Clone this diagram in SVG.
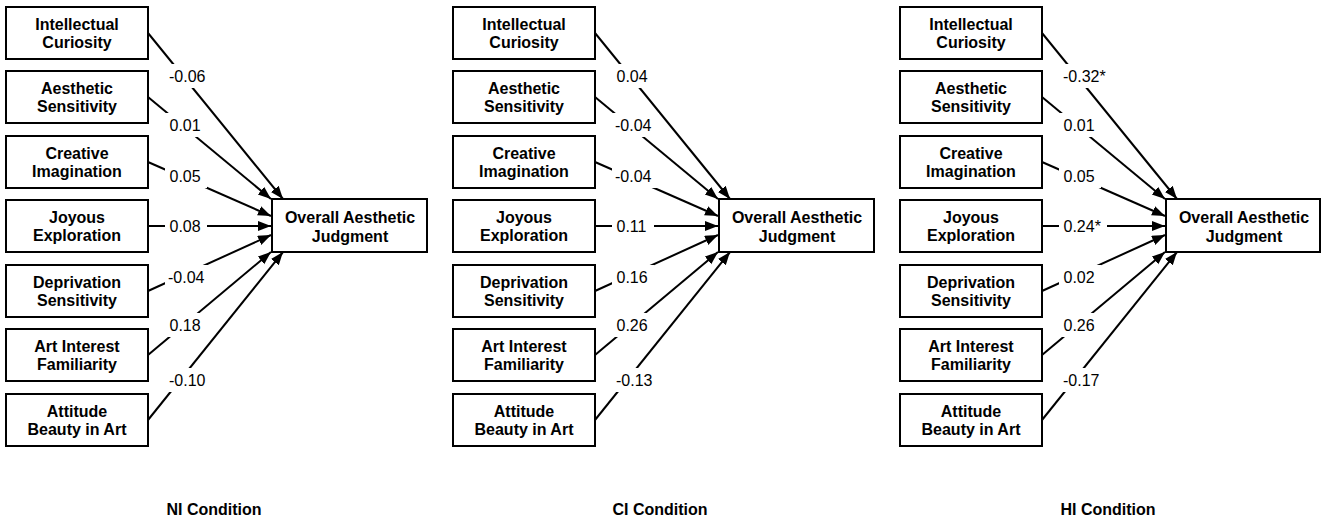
<svg xmlns="http://www.w3.org/2000/svg" width="1323" height="520" viewBox="0 0 1323 520">
<style>
.box{fill:#fff;stroke:#000;stroke-width:2}
.nt{font-family:"Liberation Sans",Arial,sans-serif;font-size:16px;font-weight:bold;fill:#000;text-anchor:middle}
.lbl{font-family:"Liberation Sans",Arial,sans-serif;font-size:16px;fill:#000}
.edge{stroke:#000;stroke-width:2;fill:none;marker-end:url(#ah)}
.bg{fill:#fff}
.cap{font-family:"Liberation Sans",Arial,sans-serif;font-size:16px;font-weight:bold;fill:#000;text-anchor:middle}
</style>
<defs>
<marker id="ah" markerUnits="userSpaceOnUse" markerWidth="14" markerHeight="12" refX="13" refY="5" orient="auto">
<path d="M0,0 L13,5 L0,10 z" fill="#000"/>
</marker>
<g id="edges">
<line class="edge" x1="148" y1="33" x2="283" y2="199"/>
<line class="edge" x1="148" y1="97" x2="271" y2="199"/>
<line class="edge" x1="148" y1="162" x2="271" y2="216"/>
<line class="edge" x1="148" y1="226" x2="271" y2="226"/>
<line class="edge" x1="148" y1="291" x2="271" y2="235"/>
<line class="edge" x1="148" y1="355" x2="271" y2="252"/>
<line class="edge" x1="148" y1="420" x2="283" y2="252"/>
</g>
</defs>
<rect width="1323" height="520" fill="#fff"/>

<g id="connectors">
<g id="conn-NI">
<use href="#edges"/>
<rect class="bg" x="165" y="64" width="47" height="24"/><text class="lbl" x="169" y="82">-0.06</text>
<rect class="bg" x="165" y="113" width="42" height="24"/><text class="lbl" x="169.5" y="131">0.01</text>
<rect class="bg" x="165" y="164" width="42" height="24"/><text class="lbl" x="169.5" y="182">0.05</text>
<rect class="bg" x="165" y="214" width="42" height="24"/><text class="lbl" x="169.5" y="232">0.08</text>
<rect class="bg" x="165" y="265" width="47" height="24"/><text class="lbl" x="168" y="283">-0.04</text>
<rect class="bg" x="165" y="313" width="42" height="24"/><text class="lbl" x="169.5" y="331">0.18</text>
<rect class="bg" x="165" y="368" width="47" height="24"/><text class="lbl" x="169" y="386">-0.10</text>
</g>
<g id="conn-CI" transform="translate(447,0)">
<use href="#edges"/>
<rect class="bg" x="165" y="64" width="42" height="24"/><text class="lbl" x="169.5" y="82">0.04</text>
<rect class="bg" x="165" y="113" width="47" height="24"/><text class="lbl" x="168" y="131">-0.04</text>
<rect class="bg" x="165" y="164" width="47" height="24"/><text class="lbl" x="168" y="182">-0.04</text>
<rect class="bg" x="165" y="214" width="42" height="24"/><text class="lbl" x="169.5" y="232">0.11</text>
<rect class="bg" x="165" y="265" width="42" height="24"/><text class="lbl" x="169.5" y="283">0.16</text>
<rect class="bg" x="165" y="313" width="42" height="24"/><text class="lbl" x="169.5" y="331">0.26</text>
<rect class="bg" x="165" y="368" width="47" height="24"/><text class="lbl" x="169" y="386">-0.13</text>
</g>
<g id="conn-HI" transform="translate(894,0)">
<use href="#edges"/>
<rect class="bg" x="165" y="64" width="53" height="24"/><text class="lbl" x="169" y="82">-0.32*</text>
<rect class="bg" x="165" y="113" width="42" height="24"/><text class="lbl" x="169.5" y="131">0.01</text>
<rect class="bg" x="165" y="164" width="42" height="24"/><text class="lbl" x="169.5" y="182">0.05</text>
<rect class="bg" x="165" y="214" width="48" height="24"/><text class="lbl" x="169.5" y="232">0.24*</text>
<rect class="bg" x="165" y="265" width="42" height="24"/><text class="lbl" x="169.5" y="283">0.02</text>
<rect class="bg" x="165" y="313" width="42" height="24"/><text class="lbl" x="169.5" y="331">0.26</text>
<rect class="bg" x="165" y="368" width="47" height="24"/><text class="lbl" x="169" y="386">-0.17</text>
</g>
</g>

<g id="panel-NI">
<g id="ni-ic"><rect class="box" x="6" y="7" width="142" height="52"/><text class="nt" x="77" y="30">Intellectual</text><text class="nt" x="77" y="48">Curiosity</text></g>
<g id="ni-as"><rect class="box" x="6" y="71" width="142" height="52"/><text class="nt" x="77" y="94">Aesthetic</text><text class="nt" x="77" y="112">Sensitivity</text></g>
<g id="ni-ci"><rect class="box" x="6" y="136" width="142" height="52"/><text class="nt" x="77" y="159">Creative</text><text class="nt" x="77" y="177">Imagination</text></g>
<g id="ni-je"><rect class="box" x="6" y="200" width="142" height="52"/><text class="nt" x="77" y="223">Joyous</text><text class="nt" x="77" y="241">Exploration</text></g>
<g id="ni-ds"><rect class="box" x="6" y="265" width="142" height="52"/><text class="nt" x="77" y="288">Deprivation</text><text class="nt" x="77" y="306">Sensitivity</text></g>
<g id="ni-aif"><rect class="box" x="6" y="329" width="142" height="52"/><text class="nt" x="77" y="352">Art Interest</text><text class="nt" x="77" y="370">Familiarity</text></g>
<g id="ni-aba"><rect class="box" x="6" y="394" width="142" height="52"/><text class="nt" x="77" y="417">Attitude</text><text class="nt" x="77" y="435">Beauty in Art</text></g>
<g id="ni-oaj"><rect class="box" x="272" y="199" width="155" height="53"/><text class="nt" x="350" y="223">Overall Aesthetic</text><text class="nt" x="350" y="242">Judgment</text></g>
<text class="cap" x="214" y="515">NI Condition</text>
</g>

<g id="panel-CI" transform="translate(447,0)">
<g id="ci-ic"><rect class="box" x="6" y="7" width="142" height="52"/><text class="nt" x="77" y="30">Intellectual</text><text class="nt" x="77" y="48">Curiosity</text></g>
<g id="ci-as"><rect class="box" x="6" y="71" width="142" height="52"/><text class="nt" x="77" y="94">Aesthetic</text><text class="nt" x="77" y="112">Sensitivity</text></g>
<g id="ci-ci"><rect class="box" x="6" y="136" width="142" height="52"/><text class="nt" x="77" y="159">Creative</text><text class="nt" x="77" y="177">Imagination</text></g>
<g id="ci-je"><rect class="box" x="6" y="200" width="142" height="52"/><text class="nt" x="77" y="223">Joyous</text><text class="nt" x="77" y="241">Exploration</text></g>
<g id="ci-ds"><rect class="box" x="6" y="265" width="142" height="52"/><text class="nt" x="77" y="288">Deprivation</text><text class="nt" x="77" y="306">Sensitivity</text></g>
<g id="ci-aif"><rect class="box" x="6" y="329" width="142" height="52"/><text class="nt" x="77" y="352">Art Interest</text><text class="nt" x="77" y="370">Familiarity</text></g>
<g id="ci-aba"><rect class="box" x="6" y="394" width="142" height="52"/><text class="nt" x="77" y="417">Attitude</text><text class="nt" x="77" y="435">Beauty in Art</text></g>
<g id="ci-oaj"><rect class="box" x="272" y="199" width="155" height="53"/><text class="nt" x="350" y="223">Overall Aesthetic</text><text class="nt" x="350" y="242">Judgment</text></g>
<text class="cap" x="213" y="515">CI Condition</text>
</g>

<g id="panel-HI" transform="translate(894,0)">
<g id="hi-ic"><rect class="box" x="6" y="7" width="142" height="52"/><text class="nt" x="77" y="30">Intellectual</text><text class="nt" x="77" y="48">Curiosity</text></g>
<g id="hi-as"><rect class="box" x="6" y="71" width="142" height="52"/><text class="nt" x="77" y="94">Aesthetic</text><text class="nt" x="77" y="112">Sensitivity</text></g>
<g id="hi-ci"><rect class="box" x="6" y="136" width="142" height="52"/><text class="nt" x="77" y="159">Creative</text><text class="nt" x="77" y="177">Imagination</text></g>
<g id="hi-je"><rect class="box" x="6" y="200" width="142" height="52"/><text class="nt" x="77" y="223">Joyous</text><text class="nt" x="77" y="241">Exploration</text></g>
<g id="hi-ds"><rect class="box" x="6" y="265" width="142" height="52"/><text class="nt" x="77" y="288">Deprivation</text><text class="nt" x="77" y="306">Sensitivity</text></g>
<g id="hi-aif"><rect class="box" x="6" y="329" width="142" height="52"/><text class="nt" x="77" y="352">Art Interest</text><text class="nt" x="77" y="370">Familiarity</text></g>
<g id="hi-aba"><rect class="box" x="6" y="394" width="142" height="52"/><text class="nt" x="77" y="417">Attitude</text><text class="nt" x="77" y="435">Beauty in Art</text></g>
<g id="hi-oaj"><rect class="box" x="272" y="199" width="154" height="53"/><text class="nt" x="350" y="223">Overall Aesthetic</text><text class="nt" x="350" y="242">Judgment</text></g>
<text class="cap" x="214" y="515">HI Condition</text>
</g>
</svg>
